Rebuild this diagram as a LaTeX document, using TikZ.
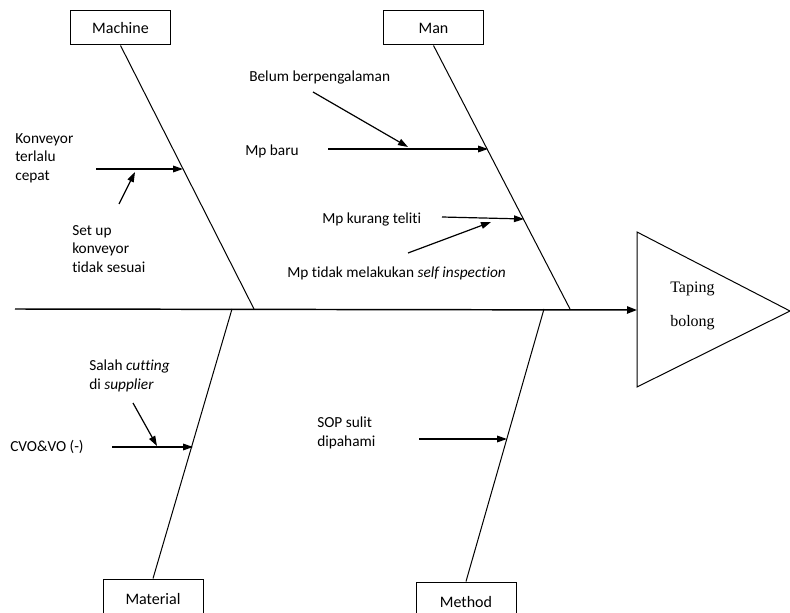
\documentclass[tikz,border=0pt]{standalone}
\usepackage{fontspec}
\setmainfont{Carlito}[Ligatures=NoCommon]
\newfontfamily\timesfont{Liberation Serif}
\usetikzlibrary{arrows.meta, positioning, calc}
\tikzset{
  label_font/.style = {font=\fontsize{11.5}{14}\selectfont},
  box_font/.style = {font=\fontsize{12}{14}\selectfont},
  effect_font/.style = {font=\timesfont\fontsize{12}{26}\selectfont},
  thin_line/.style = {line width=0.75pt}
}
\tikzset{
  category/.style = {box_font, draw, thin_line, minimum width=75.5pt, minimum height=25.5pt, inner sep=0},
  category_cut/.style = {category, minimum width=75pt, minimum height=30pt},
  cause/.style = {label_font, align=left, anchor=west, inner sep=0},
  bone/.style = {thin_line},
  spine/.style = {line width=1.1pt, -{Triangle[length=7.5pt,width=5.5pt]}},
  arrow/.style = {line width=0.9pt, -{Triangle[length=7.5pt,width=5pt]}}
}
\begin{document}
\begin{tikzpicture}[x=0.75pt, y=-0.75pt]
    \useasboundingbox (0,0) rectangle (790,613);

    % Categories
    \node[category] (machine) at (120.5,28) {Machine};
    \node[category] (man) at (433.5,28) {Man};
    \node[category_cut] (material) at (153,599) {Material};
    \node[category_cut] (method) at (466,602) {Method};

    % Effect
    \coordinate (tail) at (15,309);
    \coordinate (head) at (637,310);
    \coordinate (head_top) at (637,232);
    \coordinate (head_tip) at (790,311);
    \coordinate (head_bottom) at (637,387);
    \node[effect_font, align=left, inner sep=0] (effect) at (692.5,306) {Taping\\bolong};

    % Bone roots on the spine
    \coordinate (machine_root) at (254,309);
    \coordinate (man_root) at (570,309);
    \coordinate (material_root) at (232,309);
    \coordinate (method_root) at (544,309);

    % Causes
    \node[cause] (konveyor) at (15,158) {Konveyor\\terlalu\\cepat};
    \node[cause] (setup) at (72,249) {Set up\\konveyor\\tidak sesuai};
    \node[cause] (belum) at (249,77) {Belum berpengalaman};
    \node[cause] (mp_baru) at (245,151) {Mp baru};
    \node[cause] (mp_kurang) at (322,219) {Mp kurang teliti};
    \node[cause] (mp_tidak) at (287,273) {Mp tidak melakukan \textit{self inspection}};
    \node[cause] (salah) at (89,376) {Salah \textit{cutting}\\di \textit{supplier}};
    \node[cause] (cvo) at (10,447) {CVO\&VO (-)};
    \node[cause] (sop) at (317,433) {SOP sulit\\dipahami};

    % Arrow ends
    \coordinate (konveyor_a) at (96,169);
    \coordinate (konveyor_b) at (183,169);
    \coordinate (setup_a) at (119,204);
    \coordinate (setup_b) at (135,172);
    \coordinate (belum_a) at (313,92);
    \coordinate (belum_b) at (408,147);
    \coordinate (mp_baru_a) at (328,149);
    \coordinate (mp_baru_b) at (488,149);
    \coordinate (mp_kurang_a) at (442,217);
    \coordinate (mp_kurang_b) at (524,219);
    \coordinate (mp_tidak_a) at (408,253);
    \coordinate (mp_tidak_b) at (491,222);
    \coordinate (salah_a) at (133,403);
    \coordinate (salah_b) at (157,446);
    \coordinate (cvo_a) at (112,447);
    \coordinate (cvo_b) at (193,447);
    \coordinate (sop_a) at (419,439);
    \coordinate (sop_b) at (507,439);

    % Arrows and lines
    \draw[bone] (head_top)--(head_tip)--(head_bottom)--cycle;
    \draw[spine] (tail)--(head);

    \draw[bone] (machine.south)--(machine_root);
    \draw[bone] (man.south)--(man_root);
    \draw[bone] (material.north)--(material_root);
    \draw[bone] (method.north)--(method_root);

    \draw[arrow] (konveyor_a)--(konveyor_b);
    \draw[arrow] (setup_a)--(setup_b);
    \draw[arrow] (belum_a)--(belum_b);
    \draw[arrow] (mp_baru_a)--(mp_baru_b);
    \draw[arrow] (mp_kurang_a)--(mp_kurang_b);
    \draw[arrow] (mp_tidak_a)--(mp_tidak_b);
    \draw[arrow] (salah_a)--(salah_b);
    \draw[arrow] (cvo_a)--(cvo_b);
    \draw[arrow] (sop_a)--(sop_b);
\end{tikzpicture}
\end{document}
